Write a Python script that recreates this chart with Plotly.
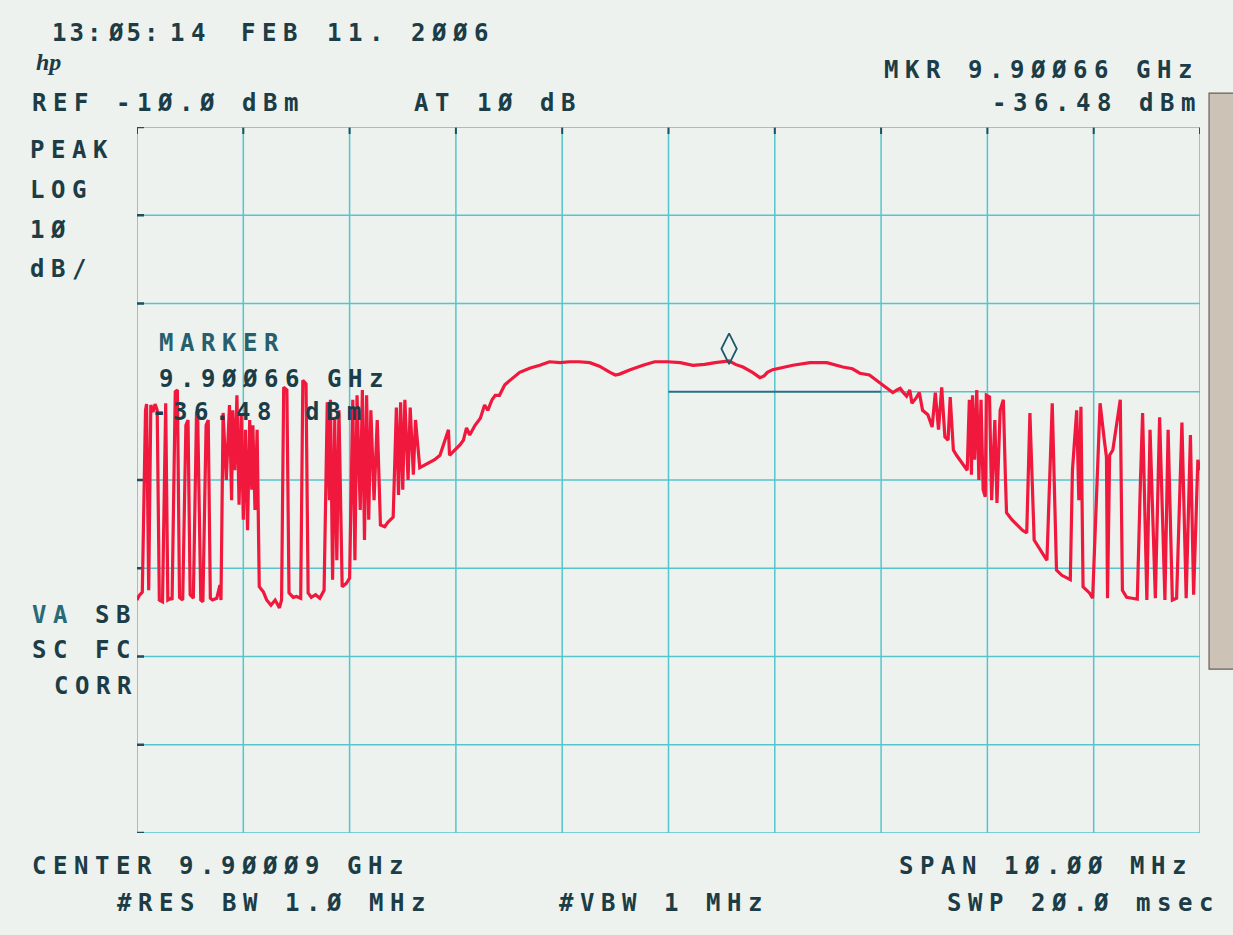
import plotly.graph_objects as go

# ---------------- data (frequency offset from center in MHz, level in dBm) ----------------
center_ghz = 9.90009
span_mhz = 10.0
ref_level = -10.0
db_per_div = 10.0

left_freq = [-5.00, -4.98, -4.95, -4.92, -4.91, -4.89, -4.87, -4.85, -4.83, -4.81, -4.79, -4.76,
             -4.73, -4.71, -4.68, -4.67, -4.64, -4.62, -4.60, -4.57, -4.54, -4.52, -4.50, -4.47,
             -4.44, -4.43, -4.40, -4.38, -4.35, -4.33, -4.31, -4.29, -4.25, -4.22, -4.21, -4.19,
             -4.16, -4.13, -4.11, -4.10, -4.08, -4.06, -4.04, -4.02, -4.00, -3.98, -3.96, -3.94,
             -3.92, -3.91, -3.89, -3.87, -3.85, -3.81, -3.78, -3.74, -3.70, -3.66, -3.64, -3.62,
             -3.59, -3.57, -3.53, -3.50, -3.46, -3.44, -3.41, -3.39, -3.36, -3.32, -3.28, -3.24,
             -3.21, -3.19, -3.18, -3.16, -3.14, -3.12, -3.10, -3.07, -3.03, -3.00, -2.97, -2.95,
             -2.93, -2.90, -2.88, -2.86, -2.84, -2.82, -2.80, -2.77, -2.74, -2.71, -2.67, -2.64,
             -2.59, -2.56, -2.54, -2.52, -2.50, -2.48, -2.45, -2.43, -2.40, -2.38, -2.34, -2.29,
             -2.24]
left_level = [-63.6, -63.1, -62.7, -42.1, -41.4, -62.5, -41.5, -42.3, -41.4, -42.1, -63.6, -63.8,
              -41.3, -63.6, -63.4, -63.6, -40.0, -39.8, -63.3, -63.6, -43.8, -43.2, -63.0, -63.4,
              -42.4, -42.1, -63.6, -63.8, -43.8, -43.2, -63.4, -63.6, -63.4, -61.9, -63.6, -42.4,
              -50.0, -41.5, -52.3, -42.1, -48.9, -40.4, -52.8, -42.6, -54.5, -44.3, -55.7, -43.2,
              -51.1, -43.8, -53.4, -44.3, -62.1, -62.7, -63.6, -64.2, -63.6, -64.5, -63.6, -39.5,
              -39.8, -62.8, -63.3, -63.2, -63.4, -38.7, -39.1, -62.8, -63.3, -63.0, -63.4, -62.5,
              -41.2, -52.3, -40.9, -61.3, -43.2, -59.1, -42.1, -62.1, -61.7, -61.1, -40.9, -59.1,
              -40.4, -53.4, -39.8, -56.8, -40.4, -54.5, -42.1, -52.3, -43.2, -55.1, -55.3, -54.8,
              -54.2, -41.8, -51.7, -41.2, -51.1, -40.9, -50.0, -41.8, -49.4, -43.2, -48.6, -48.3,
              -48.0]

center_freq = [-2.20, -2.15, -2.10, -2.07, -2.06, -2.01, -1.96, -1.93, -1.90, -1.87, -1.82, -1.77,
               -1.73, -1.70, -1.66, -1.63, -1.59, -1.54, -1.49, -1.44, -1.40, -1.30, -1.21, -1.12,
               -1.02, -0.93, -0.84, -0.74, -0.65, -0.55, -0.50, -0.46, -0.36, -0.24, -0.13, -0.01,
               0.11, 0.23, 0.34, 0.44, 0.57, 0.63, 0.70, 0.79, 0.86, 0.90, 0.93, 0.98,
               1.08, 1.17, 1.33, 1.49, 1.64, 1.73, 1.80, 1.89, 1.99, 2.06, 2.11]
center_level = [-47.7, -47.2, -45.5, -44.3, -47.2, -46.6, -46.0, -45.5, -44.1, -44.9, -43.8, -43.0,
                -41.5, -42.1, -40.9, -40.4, -40.4, -39.2, -38.7, -38.1, -37.8, -37.3, -37.0, -36.6,
                -36.7, -36.6, -36.6, -36.7, -37.1, -37.8, -38.1, -38.0, -37.5, -37.0, -36.6, -36.6,
                -36.7, -37.0, -36.9, -36.7, -36.5, -36.9, -37.2, -37.8, -38.4, -38.2, -37.8, -37.5,
                -37.2, -37.0, -36.7, -36.7, -37.2, -37.4, -37.9, -38.1, -39.0, -39.6, -40.1]

right_freq = [2.15, 2.18, 2.21, 2.24, 2.27, 2.29, 2.33, 2.36, 2.39, 2.44, 2.48, 2.51,
              2.54, 2.57, 2.60, 2.63, 2.65, 2.68, 2.71, 2.74, 2.78, 2.81, 2.83, 2.85,
              2.86, 2.88, 2.90, 2.92, 2.94, 2.96, 2.98, 2.99, 3.02, 3.04, 3.07, 3.09,
              3.12, 3.15, 3.17, 3.18, 3.23, 3.28, 3.33, 3.37, 3.40, 3.44, 3.47, 3.51,
              3.56, 3.61, 3.65, 3.70, 3.75, 3.78, 3.80, 3.84, 3.86, 3.88, 3.90, 3.94,
              3.96, 3.99, 4.03, 4.06, 4.10, 4.12, 4.13, 4.15, 4.18, 4.21, 4.25, 4.27,
              4.31, 4.36, 4.41, 4.44, 4.46, 4.50, 4.53, 4.58, 4.62, 4.67, 4.70, 4.74,
              4.78, 4.83, 4.87, 4.91, 4.94, 4.98, 5.00]
right_level = [-39.8, -39.6, -40.1, -40.5, -39.8, -41.3, -40.7, -40.1, -42.1, -42.6, -44.0, -40.1,
               -44.3, -39.5, -45.1, -45.5, -40.6, -46.6, -47.2, -47.7, -48.3, -48.9, -40.9, -49.4,
               -40.4, -47.7, -39.8, -50.0, -40.9, -51.1, -51.9, -40.4, -40.6, -52.3, -43.2, -52.6,
               -42.1, -40.9, -50.0, -53.7, -54.5, -55.1, -55.7, -56.0, -42.4, -56.8, -57.4, -58.2,
               -59.1, -41.3, -60.2, -60.8, -61.1, -61.3, -48.9, -42.1, -52.3, -41.7, -62.1, -62.5,
               -62.8, -63.4, -50.0, -41.3, -45.5, -47.4, -63.4, -47.2, -46.6, -44.3, -40.9, -62.5,
               -63.3, -63.4, -63.5, -50.0, -42.4, -63.6, -44.3, -63.4, -42.9, -63.6, -44.3, -63.6,
               -63.4, -43.5, -63.4, -44.9, -63.0, -47.7, -48.9]

marker_freq_mhz = 0.57
marker_level = -36.48

grid_freqs = [-5, -4, -3, -2, -1, 0, 1, 2, 3, 4, 5]
grid_levels = [-10, -20, -30, -50, -60, -70, -80, -90]
partial_level = -40          # display line drawn only on the right half
partial_from = 0

freq = left_freq + center_freq + right_freq
level = left_level + center_level + right_level

# ---------------- styling ----------------
W, H = 1233, 935
ML, MR, MT, MB = 137, 33, 127, 102
BG = "#edf2ef"
GRID = "#55c5cd"
DARK = "#1f4f5c"
INK = "#1c3c46"
TRACE = "#f0183c"
FONT = "DejaVu Sans Mono"
FSIZE = 24
PITCH = 21.0
LS = PITCH - 0.602 * FSIZE

fig = go.Figure()
fig.add_trace(go.Scatter(x=freq, y=level, mode="lines",
                         line=dict(color=TRACE, width=3.2), hoverinfo="skip",
                         showlegend=False))
fig.add_trace(go.Scatter(x=[marker_freq_mhz], y=[marker_level + 1.35], mode="markers",
                         marker=dict(symbol="diamond-tall-open", size=22, color="#1f5866",
                                     line=dict(color="#1f5866", width=1.8)),
                         hoverinfo="skip", showlegend=False))

shapes = []
for f in grid_freqs:
    shapes.append(dict(type="line", xref="x", yref="y", x0=f, x1=f, y0=-90, y1=-10,
                       line=dict(color=GRID, width=1.5), layer="below"))
    # small dark plotter tick at the top border
    shapes.append(dict(type="line", xref="x", yref="y", ysizemode="pixel", yanchor=-10,
                       x0=f, x1=f, y0=0, y1=-7, line=dict(color=DARK, width=2), layer="below"))
for lv in grid_levels:
    shapes.append(dict(type="line", xref="x", yref="y", x0=-5, x1=5, y0=lv, y1=lv,
                       line=dict(color=GRID, width=1.5), layer="below"))
    shapes.append(dict(type="line", xref="x", yref="y", xsizemode="pixel", xanchor=-5,
                       x0=0, x1=7, y0=lv, y1=lv, line=dict(color=DARK, width=2.5), layer="below"))
shapes.append(dict(type="line", xref="x", yref="y", x0=partial_from, x1=2, y0=partial_level,
                   y1=partial_level, line=dict(color="#2a6f86", width=1.8), layer="below"))
shapes.append(dict(type="line", xref="x", yref="y", x0=2, x1=5, y0=partial_level,
                   y1=partial_level, line=dict(color=GRID, width=1.5), layer="below"))
# paper strip at the right edge of the scan
shapes.append(dict(type="rect", xref="paper", yref="paper", x0=1.0085, x1=1.04,
                   y0=0.232, y1=1.048, fillcolor="#cdc2b6",
                   line=dict(color="#6b5f55", width=1.2), layer="below"))

annotations = []
def txt(s, x, y, size=FSIZE, color=INK, ls=LS, weight="bold", family=FONT, italic=False):
    body = f'<span style="letter-spacing:{ls:.2f}px">{s}</span>' if ls else s
    annotations.append(dict(text=body, x=(x - ML) / (W - ML - MR),
                            y=(H - MB - y) / (H - MT - MB), xref="paper", yref="paper",
                            xanchor="left", yanchor="middle", showarrow=False,
                            font=dict(family=family, size=size, color=color, weight=weight,
                                      style="italic" if italic else "normal")))

# header
for s, x, sp in [("13:", 50, 3.0), ("Ø5:", 106, 3.0), ("14", 168, LS), ("FEB", 239, LS),
                 ("11.", 325, LS), ("2ØØ6", 409, LS)]:
    txt(s, x, 33, ls=sp)
txt("hp", 34, 62, size=24, weight="bold", family="Liberation Serif", italic=True, ls=0)
for s, x in [("MKR", 882), ("9.9ØØ66", 966), ("GHz", 1134)]:
    txt(s, x, 70)
for s, x in [("REF", 30), ("-1Ø.Ø", 114), ("dBm", 240), ("AT", 412), ("1Ø", 475), ("dB", 538)]:
    txt(s, x, 103)
for s, x in [("-36.48", 990), ("dBm", 1137)]:
    txt(s, x, 103)
for s, y in [("PEAK", 150), ("LOG", 190), ("1Ø", 230), ("dB/", 269)]:
    txt(s, 28, y)
txt("MARKER", 157, 343, color="#285f6c")
for s, x in [("9.9ØØ66", 157), ("GHz", 325)]:
    txt(s, x, 379)
for s, x in [("-36.48", 150), ("dBm", 303)]:
    txt(s, x, 412)
for s, x in [("VA", 30), ("SB", 93)]:
    txt(s, x, 615, color=("#2a6a78" if s == "VA" else INK))
for s, x in [("SC", 30), ("FC", 93)]:
    txt(s, x, 650)
txt("CORR", 52, 686)
for s, x in [("CENTER", 30), ("9.9ØØØ9", 177), ("GHz", 345)]:
    txt(s, x, 866)
for s, x in [("SPAN", 897), ("1Ø.ØØ", 1002), ("MHz", 1128)]:
    txt(s, x, 866)
for s, x in [("#RES", 115), ("BW", 220), ("1.Ø", 283), ("MHz", 367)]:
    txt(s, x, 903)
for s, x in [("#VBW", 557), ("1", 662), ("MHz", 704)]:
    txt(s, x, 903)
for s, x in [("SWP", 945), ("2Ø.Ø", 1029), ("msec", 1134)]:
    txt(s, x, 903)

fig.update_layout(
    width=W, height=H,
    margin=dict(l=ML, r=MR, t=MT, b=MB),
    paper_bgcolor=BG, plot_bgcolor=BG,
    xaxis=dict(range=[-span_mhz / 2, span_mhz / 2], showgrid=False, zeroline=False,
               showticklabels=False, ticks="", showline=False, fixedrange=True),
    yaxis=dict(range=[ref_level - 8 * db_per_div, ref_level], showgrid=False, zeroline=False,
               showticklabels=False, ticks="", showline=False, fixedrange=True),
    shapes=shapes,
    annotations=annotations,
    showlegend=False,
)

fig.write_html("out.html")
